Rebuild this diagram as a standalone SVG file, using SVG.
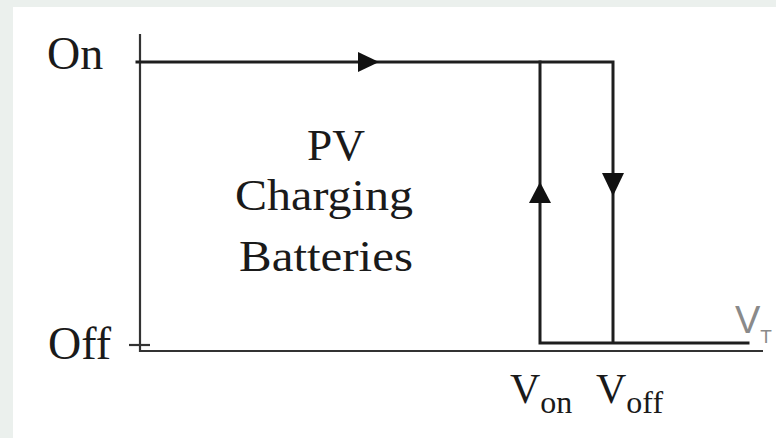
<svg xmlns="http://www.w3.org/2000/svg" width="776" height="438" viewBox="0 0 776 438">
<style>
.serif{font-family:"Liberation Serif","Times New Roman",serif;fill:#1a1a1a}
.lbl{font-size:46px}
.mid{font-size:44px;text-anchor:middle}
.ln{stroke:#1e1e1e;stroke-width:3;fill:none;stroke-linecap:square}
.ax{stroke:#333;stroke-width:2.2;fill:none}
.ar{fill:#111}
</style>
<rect x="0" y="0" width="776" height="438" fill="#ebf0ed"/>
<rect x="13" y="7" width="763" height="431" fill="#ffffff"/>
<g id="axes">
<line class="ax" x1="140" y1="34" x2="140" y2="352"/>
<line class="ax" x1="140" y1="351" x2="763" y2="351"/>
<line class="ax" x1="129" y1="345" x2="150" y2="345"/>
</g>
<g id="connectors">
<polyline class="ln" points="137,62 613,62 613,342"/>
<polyline class="ln" points="540,62 540,343 748,343"/>
<polygon class="ar" points="358,52 379,62 358,72"/>
<polygon class="ar" points="529,203 540,182 551,203"/>
<polygon class="ar" points="602,173 624,173 613,196"/>
</g>
<g id="label-on"><text class="serif lbl" x="47" y="69">On</text></g>
<g id="label-off"><text class="serif lbl" x="48" y="359">Off</text></g>
<g id="region-label">
<text class="serif mid" x="336" y="160" textLength="58" lengthAdjust="spacingAndGlyphs">PV</text>
<text class="serif mid" x="324" y="210" textLength="178" lengthAdjust="spacingAndGlyphs">Charging</text>
<text class="serif mid" x="326" y="271" textLength="174" lengthAdjust="spacingAndGlyphs">Batteries</text>
</g>
<g id="label-von"><text class="serif" x="510" y="403" font-size="42">V<tspan font-size="32" dy="10">on</tspan></text></g>
<g id="label-voff"><text class="serif" x="596" y="403" font-size="42">V<tspan font-size="32" dy="10">off</tspan></text></g>
<g id="label-vt"><text x="735" y="333" font-family="Liberation Sans, Arial, sans-serif" font-size="38" fill="#8a8a8a">V<tspan font-size="19" dy="10">T</tspan></text></g>
</svg>
